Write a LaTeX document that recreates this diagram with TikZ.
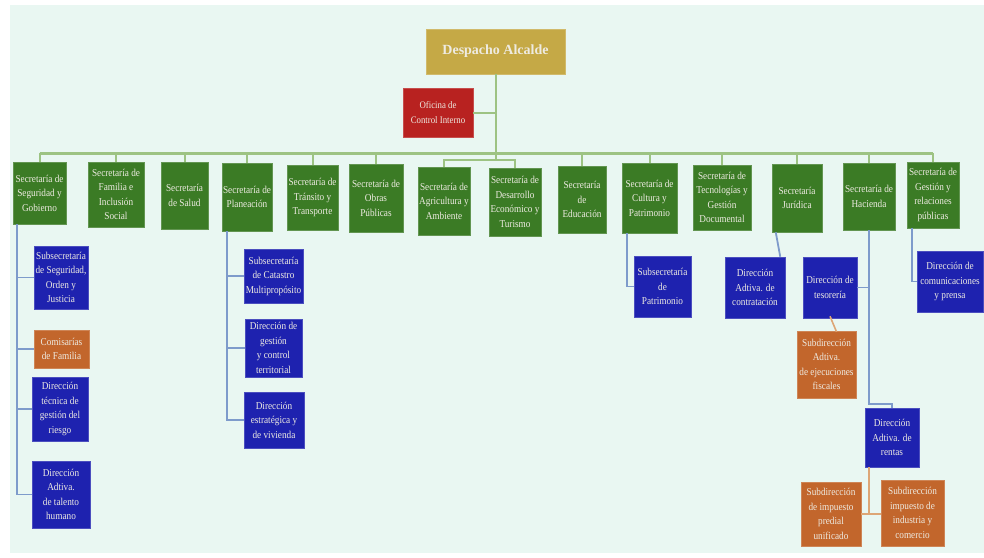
\documentclass[tikz,border=0pt]{standalone}
\usepackage{fontspec}
\setmainfont{Liberation Serif}
\newfontfamily\narrowserif{Liberation Serif}[FakeStretch=0.88]
\definecolor{bgmint}{HTML}{E9F7F2}
\definecolor{cgold}{HTML}{C5A946}
\definecolor{cred}{HTML}{B82220}
\definecolor{cgreen}{HTML}{3B7B25}
\definecolor{cblue}{HTML}{1E22AF}
\definecolor{corange}{HTML}{C2662C}
\definecolor{boxtext}{HTML}{EEEBE2}
\definecolor{busgreen}{HTML}{9DC383}
\definecolor{connblue}{HTML}{7E9BCB}
\definecolor{conntan}{HTML}{DDA676}
\tikzset{
  box/.style={rectangle, inner sep=1pt, align=center, text=boxtext,
    font=\narrowserif\fontsize{10.5}{14.5}\selectfont, fill=#1, draw=#1!80!white, line width=0.5pt},
  bus/.style={draw=busgreen, line width=2pt},
  mainbus/.style={draw=busgreen, line width=3pt},
  bconn/.style={draw=connblue, line width=1.8pt},
  oconn/.style={draw=conntan, line width=1.6pt},
}
\begin{document}
\begin{tikzpicture}[x=1pt,y=-1pt]
\useasboundingbox (0,0) rectangle (984,557);
\fill[bgmint] (10,5) rectangle (984,553);

% top
\node[box=cgold, minimum width=139, minimum height=45, font=\fontsize{14}{16}\bfseries] (despacho) at (495.5,51.5) {Despacho Alcalde};
\node[box=cred, minimum width=70, minimum height=49, font=\narrowserif\fontsize{10}{15}\selectfont] (oficina) at (438,112.5) {Oficina de\\Control Interno};

% secretarias
\node[box=cgreen, minimum width=53, minimum height=62] (s1) at (39.5,193) {Secretaría de\\Seguridad y\\Gobierno};
\node[box=cgreen, minimum width=56, minimum height=65] (s2) at (116,194.5) {Secretaría de\\Familia e\\Inclusión\\Social};
\node[box=cgreen, minimum width=47, minimum height=67] (s3) at (184.5,195.5) {Secretaría\\de Salud};
\node[box=cgreen, minimum width=50, minimum height=68] (s4) at (247,197) {Secretaría de\\Planeación};
\node[box=cgreen, minimum width=51, minimum height=65] (s5) at (312.5,197.5) {Secretaría de\\Tránsito y\\Transporte};
\node[box=cgreen, minimum width=54, minimum height=68] (s6) at (376,198) {Secretaría de\\Obras\\Públicas};
\node[box=cgreen, minimum width=52, minimum height=68] (s7) at (444,201) {Secretaría de\\Agricultura y\\Ambiente};
\node[box=cgreen, minimum width=52, minimum height=68] (s8) at (515,202) {Secretaría de\\Desarrollo\\Económico y\\Turismo};
\node[box=cgreen, minimum width=48, minimum height=67] (s9) at (582,199.5) {Secretaría\\de\\Educación};
\node[box=cgreen, minimum width=55, minimum height=70] (s10) at (649.5,198) {Secretaría de\\Cultura y\\Patrimonio};
\node[box=cgreen, minimum width=58, minimum height=65] (s11) at (722,197.5) {Secretaría de\\Tecnologías y\\Gestión\\Documental};
\node[box=cgreen, minimum width=50, minimum height=68] (s12) at (797,198) {Secretaría\\Jurídica};
\node[box=cgreen, minimum width=52, minimum height=67] (s13) at (869,196.5) {Secretaría de\\Hacienda};
\node[box=cgreen, minimum width=52, minimum height=66] (s14) at (933,195) {Secretaría de\\Gestión y\\relaciones\\públicas};

% children
\node[box=cblue, minimum width=54, minimum height=63] (c1) at (61,277.5) {Subsecretaría\\de Seguridad,\\Orden y\\Justicia};
\node[box=corange, minimum width=55, minimum height=38] (c2) at (61.5,349) {Comisarías\\de Familia};
\node[box=cblue, minimum width=56, minimum height=64] (c3) at (60,409) {Dirección\\técnica de\\gestión del\\riesgo};
\node[box=cblue, minimum width=58, minimum height=67] (c4) at (61,494.5) {Dirección\\Adtiva.\\de talento\\humano};

\node[box=cblue, minimum width=59, minimum height=54] (p1) at (273.5,276) {Subsecretaría\\de Catastro\\Multipropósito};
\node[box=cblue, minimum width=57, minimum height=58] (p2) at (273.5,348) {Dirección de\\gestión\\y control\\territorial};
\node[box=cblue, minimum width=60, minimum height=56] (p3) at (274,420) {Dirección\\estratégica y\\de vivienda};

\node[box=cblue, minimum width=57, minimum height=61] (k1) at (662.5,286.5) {Subsecretaría\\de\\Patrimonio};
\node[box=cblue, minimum width=60, minimum height=61] (j1) at (755,287.5) {Dirección\\Adtiva. de\\contratación};
\node[box=cblue, minimum width=54, minimum height=61] (h1) at (830,287.5) {Dirección de\\tesorería};
\node[box=corange, minimum width=59, minimum height=67] (h2) at (826.5,364.5) {Subdirección\\Adtiva.\\de ejecuciones\\fiscales};
\node[box=cblue, minimum width=54, minimum height=59] (h3) at (892,437.5) {Dirección\\Adtiva. de\\rentas};
\node[box=corange, minimum width=60, minimum height=64] (h4) at (831,514) {Subdirección\\de impuesto\\predial\\unificado};
\node[box=corange, minimum width=63, minimum height=66] (h5) at (912.5,513) {Subdirección\\impuesto de\\industria y\\comercio};
\node[box=cblue, minimum width=66, minimum height=61] (g1) at (950,281.5) {Dirección de\\comunicaciones\\y prensa};

% green connectors
\coordinate (busy) at (0,153);
\coordinate (brk) at (0,160);
\draw[bus] (despacho.south) -- (despacho.south |- busy);
\draw[bus] (oficina.east) -- (oficina.east -| despacho.south);
\draw[mainbus] (s1.north |- busy) -- (s14.north |- busy);
\foreach \n in {s1,s2,s3,s4,s5,s6,s9,s10,s11,s12,s13,s14}
  \draw[bus] (\n.north) -- (\n.north |- busy);
\draw[bus] (despacho.south |- busy) -- (despacho.south |- brk);
\draw[bus] (s7.north) -- (s7.north |- brk) -- (s8.north |- brk) -- (s8.north);

% blue connectors
\foreach \n in {c1,c2,c3,c4}
  \draw[bconn] ([xshift=4pt]s1.south west) |- (\n.west);
\foreach \n in {p1,p2,p3}
  \draw[bconn] ([xshift=5pt]s4.south west) |- (\n.west);
\draw[bconn] ([xshift=5pt]s10.south west) |- (k1.west);
\draw[bconn] ([xshift=4pt]s12.south west) -- ([xshift=-5pt]j1.north east);
\draw[bconn] (s13.south) |- (h1.east);
\draw[bconn] (s13.south) -- (s13.south |- 0,404) -| (h3.north);
\draw[bconn] ([xshift=5pt]s14.south west) |- (g1.west);

% orange connectors
\draw[oconn] ([yshift=2pt]h1.south) -- ([xshift=10pt,yshift=-1pt]h2.north);
\draw[oconn] ([xshift=4pt]h3.south west) -- ([xshift=4pt]h3.south west |- h4.east);
\draw[oconn] (h4.east) -- (h4.east -| h5.west);
\end{tikzpicture}
\end{document}
